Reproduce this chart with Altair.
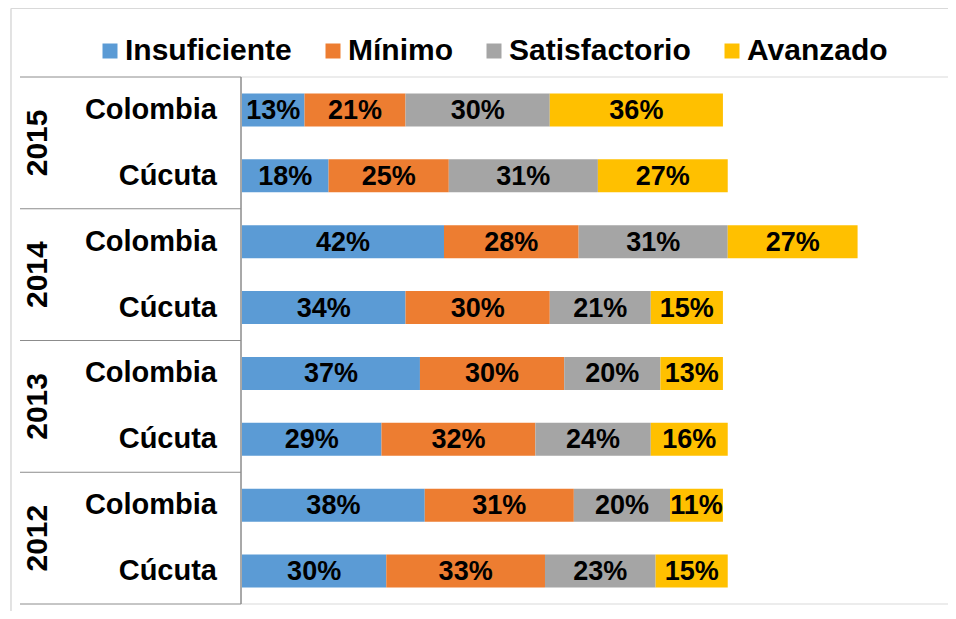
import altair as alt
import pandas as pd

# ---- data ----
years = ["2015", "2015", "2014", "2014", "2013", "2013", "2012", "2012"]
places = ["Colombia", "Cúcuta", "Colombia", "Cúcuta", "Colombia", "Cúcuta", "Colombia", "Cúcuta"]
levels = ["Insuficiente", "Mínimo", "Satisfactorio", "Avanzado"]
insuficiente = [13, 18, 42, 34, 37, 29, 38, 30]
minimo = [21, 25, 28, 30, 30, 32, 31, 33]
satisfactorio = [30, 31, 31, 21, 20, 24, 20, 23]
avanzado = [36, 27, 27, 15, 13, 16, 11, 15]
colors = ["#5B9BD5", "#ED7D31", "#A5A5A5", "#FFC000"]
year_groups = ["2015", "2014", "2013", "2012"]

FONT = "Liberation Sans"

rows = []
for i in range(len(years)):
    for k, vals in enumerate([insuficiente, minimo, satisfactorio, avanzado]):
        rows.append(dict(row=i, year=years[i], place=places[i], level=levels[k],
                         ord=k, value=vals[i], label=f"{vals[i]}%"))
df = pd.DataFrame(rows)

cat_df = pd.DataFrame({"row": list(range(len(places))), "place": places})
year_df = pd.DataFrame({"g": list(range(len(year_groups))), "year": year_groups})
sep_df = pd.DataFrame({"pos": [0, 2, 4, 6, 8]})
edge_df = pd.DataFrame({"pos": [0, 8]})

W, H = 706, 527
xscale = alt.Scale(domain=[0, 146.8], nice=False, zero=True)
yscale = alt.Scale(domain=[0, 8], nice=False, reverse=True)

base = alt.Chart(df).transform_window(
    x1="sum(value)", groupby=["row"], sort=[alt.SortField("ord")], frame=[None, 0]
).transform_calculate(
    x0="datum.x1 - datum.value",
    mid="datum.x1 - datum.value / 2",
    y0="datum.row + 0.25",
    y1="datum.row + 0.75",
    yc="datum.row + 0.5",
)

bars = base.mark_bar().encode(
    x=alt.X("x0:Q", scale=xscale, axis=None),
    x2="x1:Q",
    y=alt.Y("y0:Q", scale=yscale, axis=None),
    y2="y1:Q",
    color=alt.Color(
        "level:N",
        scale=alt.Scale(domain=levels, range=colors),
        sort=levels,
        legend=alt.Legend(
            title=None, orient="none", legendX=-147, legendY=-41,
            direction="horizontal", symbolType="square", symbolSize=225,
            symbolStrokeWidth=0, labelFontSize=30, labelFont=FONT,
            labelFontWeight="bold", labelColor="black", columnPadding=26,
            labelOffset=0, padding=0, labelLimit=0,
        ),
    ),
)

values = base.mark_text(
    font=FONT, fontSize=27, fontWeight="bold", color="black",
    align="center", baseline="middle", dy=1,
).encode(
    x=alt.X("mid:Q", scale=xscale, axis=None),
    y=alt.Y("yc:Q", scale=yscale, axis=None),
    text="label:N",
)

cats = alt.Chart(cat_df).transform_calculate(yc="datum.row + 0.5").mark_text(
    font=FONT, fontSize=29, fontWeight="bold", color="black",
    align="right", baseline="middle",
).encode(
    x=alt.value(-25),
    y=alt.Y("yc:Q", scale=yscale, axis=None),
    text="place:N",
)

yrs = alt.Chart(year_df).transform_calculate(yc="datum.g * 2 + 1").mark_text(
    font=FONT, fontSize=30, fontWeight="bold", color="black",
    align="center", baseline="middle", angle=270,
).encode(
    x=alt.value(-204),
    y=alt.Y("yc:Q", scale=yscale, axis=None),
    text="year:N",
)

seps = alt.Chart(sep_df).mark_rule(color="#8c8c8c", strokeWidth=1).encode(
    x=alt.value(-222), x2=alt.value(-1),
    y=alt.Y("pos:Q", scale=yscale, axis=None),
)

edges = alt.Chart(edge_df).mark_rule(color="#d9d9d9", strokeWidth=1).encode(
    x=alt.value(-1), x2=alt.value(W),
    y=alt.Y("pos:Q", scale=yscale, axis=None),
)

vline = alt.Chart(edge_df).mark_rule(color="#8c8c8c", strokeWidth=1).encode(
    x=alt.value(-1), y=alt.value(0), y2=alt.value(H),
)

border_left = alt.Chart(edge_df).mark_rule(color="#d9d9d9", strokeWidth=1).encode(
    x=alt.value(-231), y=alt.value(-68.5), y2=alt.value(H + 7),
)
border_top = alt.Chart(edge_df).mark_rule(color="#d9d9d9", strokeWidth=1).encode(
    x=alt.value(-231), x2=alt.value(W), y=alt.value(-68.5),
)

chart = alt.layer(
    border_left, border_top, edges, bars, values, seps, vline, cats, yrs
).properties(
    width=W, height=H,
    padding={"left": 234, "top": 69, "right": 0, "bottom": 7},
    autosize=alt.AutoSizeParams(type="none"),
    background="white",
).configure_view(stroke=None)

chart.save("out.html", embed_options={"renderer": "svg", "actions": False})
